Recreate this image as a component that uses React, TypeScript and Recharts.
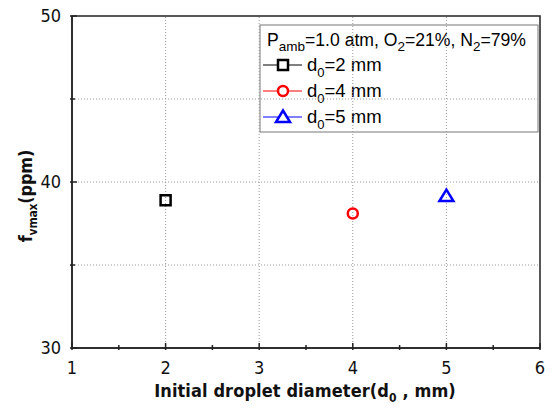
import React from 'react';
import { ScatterChart, Scatter, XAxis, YAxis, ReferenceLine, ReferenceArea, Customized } from 'recharts';

const seriesNames = ['=2 mm', '=4 mm', '=5 mm'];
const series2mm = [{ x: 2, y: 38.9 }];
const series4mm = [{ x: 4, y: 38.1 }];
const series5mm = [{ x: 5, y: 39.15 }];
const xTicks = [1, 1.5, 2, 2.5, 3, 3.5, 4, 4.5, 5, 5.5, 6];
const yTicks = [30, 35, 40, 45, 50];
const xGrid = [2, 3, 4, 5];
const yGrid = [35, 40, 45];

const TICK_FONT = "'DejaVu Sans Condensed', 'DejaVu Sans', sans-serif";
const LEG_FONT = "'Liberation Sans', Arial, sans-serif";

const Square = (props: any) => {
  const { cx, cy } = props;
  return <rect x={cx - 5} y={cy - 5} width={10} height={10} fill="none" stroke="#000" strokeWidth={2.5} />;
};
const Circle = (props: any) => {
  const { cx, cy } = props;
  return <circle cx={cx} cy={cy} r={5} fill="none" stroke="#ff0000" strokeWidth={2.5} />;
};
const Triangle = (props: any) => {
  const { cx, cy } = props;
  return <polygon points={`${cx},${cy - 6.5} ${cx + 7},${cy + 5} ${cx - 7},${cy + 5}`} fill="none" stroke="#0000ff" strokeWidth={2.5} />;
};

const XTick = (props: any) => {
  const { x, y, payload } = props;
  const v = payload.value;
  const major = Number.isInteger(v);
  return (
    <g>
      <line x1={x} y1={y} x2={x} y2={y - (major ? 7 : 5)} stroke="#222" strokeWidth={1.5} />
      {major && (
        <text x={x} y={y + 24} textAnchor="middle" fontFamily={TICK_FONT} fontStretch="condensed" fontSize={18} fill="#111">{v}</text>
      )}
    </g>
  );
};

const YTick = (props: any) => {
  const { x, y, payload } = props;
  const v = payload.value;
  const major = v % 10 === 0;
  return (
    <g>
      <line x1={x} y1={y} x2={x + (major ? 7 : 5)} y2={y} stroke="#222" strokeWidth={1.5} />
      {major && (
        <text x={x - 9} y={y + 6} textAnchor="end" fontFamily={TICK_FONT} fontStretch="condensed" fontSize={18} fill="#111">{v}</text>
      )}
    </g>
  );
};

const rows = [
  { color: '#000', label: seriesNames[0], cy: 65 },
  { color: '#ff0000', label: seriesNames[1], cy: 91 },
  { color: '#0000ff', label: seriesNames[2], cy: 117 },
];

const LegendSvg = () => (
  <g fontFamily={LEG_FONT} fill="#000">
    <rect x={260} y={25} width={278} height={107} fill="#fff" stroke="#777" strokeWidth={1} />
    <text x={267} y={46} fontSize={17.6}>
      P<tspan fontSize={13.5} dy={5}>amb</tspan><tspan dy={-5}>=1.0 atm, O</tspan><tspan fontSize={13.5} dy={5}>2</tspan><tspan dy={-5}>=21%, N</tspan><tspan fontSize={13.5} dy={5}>2</tspan><tspan dy={-5}>=79%</tspan>
    </text>
    {rows.map((r, i) => (
      <g key={i}>
        <line x1={263} y1={r.cy} x2={302} y2={r.cy} stroke={r.color} strokeWidth={1} />
        {i === 0 && <rect x={278} y={r.cy - 5} width={10} height={10} fill="#fff" stroke="#000" strokeWidth={2.5} />}
        {i === 1 && <circle cx={283} cy={r.cy} r={5} fill="#fff" stroke="#ff0000" strokeWidth={2.5} />}
        {i === 2 && <polygon points={`283,${r.cy - 6.5} 290,${r.cy + 5} 276,${r.cy + 5}`} fill="#fff" stroke="#0000ff" strokeWidth={2.5} />}
        <text x={307} y={r.cy + 6} fontSize={18.5}>
          d<tspan fontSize={13} dy={6}>0</tspan><tspan dy={-6}>{r.label}</tspan>
        </text>
      </g>
    ))}
  </g>
);

const Titles = () => (
  <g fontFamily={TICK_FONT} fontWeight="bold" fill="#111">
    <text x={305} y={397} textAnchor="middle" fontSize={18} fontStretch="condensed" letterSpacing={0.1}>
      Initial droplet diameter(d<tspan fontSize={12} dy={5}>0</tspan><tspan dy={-5}> , mm)</tspan>
    </text>
    <text transform="translate(32,196) rotate(-90)" textAnchor="middle" fontSize={18} fontStretch="condensed" letterSpacing={-0.2}>
      f<tspan fontSize={12} dy={5}>vmax</tspan><tspan dy={-5}>(ppm)</tspan>
    </text>
  </g>
);

export default function App() {
  return (
    <div style={{ position: 'absolute', left: 0, top: 0, background: '#fff' }}>
      <ScatterChart width={550} height={408} margin={{ top: 16, right: 10, bottom: 0, left: 0 }}>
        <XAxis type="number" dataKey="x" domain={[1, 6]} ticks={xTicks} interval={0} height={60}
          axisLine={{ stroke: '#222', strokeWidth: 1.5 }} tickLine={false} tickSize={0} tick={<XTick />} allowDataOverflow />
        <YAxis type="number" dataKey="y" domain={[30, 50]} ticks={yTicks} interval={0} width={72}
          axisLine={{ stroke: '#222', strokeWidth: 1.5 }} tickLine={false} tickSize={0} tick={<YTick />} allowDataOverflow />
        {xGrid.map((v) => (
          <ReferenceLine key={'gx' + v} x={v} stroke="#999" strokeDasharray="1 2" strokeWidth={1} />
        ))}
        {yGrid.map((v) => (
          <ReferenceLine key={'gy' + v} y={v} stroke="#999" strokeDasharray="1 2" strokeWidth={1} />
        ))}
        <ReferenceArea x1={1} x2={6} y1={30} y2={50} fill="none" stroke="#222" strokeWidth={1.5} />
        <Scatter name={seriesNames[0]} data={series2mm} shape={<Square />} isAnimationActive={false} />
        <Scatter name={seriesNames[1]} data={series4mm} shape={<Circle />} isAnimationActive={false} />
        <Scatter name={seriesNames[2]} data={series5mm} shape={<Triangle />} isAnimationActive={false} />
        <Customized component={<LegendSvg />} />
        <Customized component={<Titles />} />
      </ScatterChart>
    </div>
  );
}
